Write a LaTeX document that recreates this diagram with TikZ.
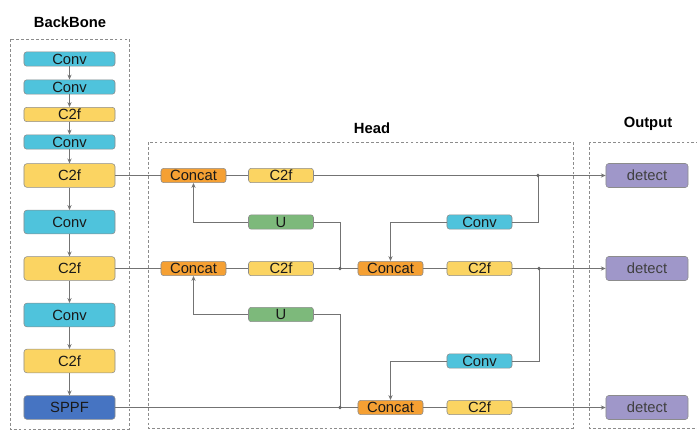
\documentclass[tikz,border=0pt]{standalone}
\usepackage{fontspec}
\setmainfont{Liberation Sans}
\usetikzlibrary{positioning, calc, arrows.meta}

\definecolor{convcol}{HTML}{4FC3DC}
\definecolor{csfcol}{HTML}{FBD462}
\definecolor{catcol}{HTML}{F5A033}
\definecolor{upcol}{HTML}{7DB97B}
\definecolor{sppfcol}{HTML}{4674C2}
\definecolor{detcol}{HTML}{9F97C9}

\begin{document}
\begin{tikzpicture}[
        x=0.025cm, y=-0.025cm,
        block/.style={rectangle, draw=black!45, rounded corners=2pt, inner sep=0pt, text=black!90, font=\fontsize{10.5}{12}\selectfont},
        bsmall/.style={block, minimum width=2.275cm, minimum height=0.36cm},
        blarge/.style={block, minimum width=2.275cm, minimum height=0.59cm},
        hsmall/.style={block, minimum width=1.625cm, minimum height=0.36cm},
        conv/.style={fill=convcol},
        csf/.style={fill=csfcol},
        cat/.style={fill=catcol},
        up/.style={fill=upcol},
        sppf/.style={fill=sppfcol},
        det/.style={block, fill=detcol, minimum width=2.05cm, minimum height=0.6cm, text=black!75},
        group/.style={draw=black!45, dash pattern=on 2pt off 1.5pt},
        title/.style={font=\fontsize{10.5}{12}\selectfont\bfseries},
        line/.style={draw=black!55, line width=0.6pt},
        arrow/.style={line, -{Stealth[length=3.5pt, width=3pt]}}
    ]
        \useasboundingbox (0,0) rectangle (697,430);
        \clip (0,0) rectangle (697,430);

        % groups
        \draw[group] (10,39) rectangle (129,429);
        \draw[group] (148,142) rectangle (573,428);
        \draw[group] (589,142) rectangle (710,428);
        \node[title] (tback) at (70,22) {BackBone};
        \node[title] (thead) at (372,128) {Head};
        \node[title] (tout) at (648,124) {Output};

        % backbone
        \node[bsmall, conv] (bconvA) at (69.5,59) {Conv};
        \node[bsmall, conv] (bconvB) at (69.5,87) {Conv};
        \node[bsmall, csf] (bcsfA) at (69.5,114.5) {C2f};
        \node[bsmall, conv] (bconvC) at (69.5,142) {Conv};
        \node[blarge, csf] (bcsfB) at (69.5,175.5) {C2f};
        \node[blarge, conv] (bconvD) at (69.5,222) {Conv};
        \node[blarge, csf] (bcsfC) at (69.5,268.5) {C2f};
        \node[blarge, conv] (bconvE) at (69.5,315) {Conv};
        \node[blarge, csf] (bcsfD) at (69.5,361) {C2f};
        \node[blarge, sppf] (sppf) at (69.5,407.5) {SPPF};
        \foreach \a/\b in {bconvA/bconvB, bconvB/bcsfA, bcsfA/bconvC, bconvC/bcsfB, bcsfB/bconvD, bconvD/bcsfC, bcsfC/bconvE, bconvE/bcsfD, bcsfD/sppf}
            \draw[arrow] (\a) -- (\b);

        % head
        \node[hsmall, cat] (hcatA) at (193.5,175.5) {Concat};
        \node[hsmall, csf] (hcsfA) at (281,175.5) {C2f};
        \node[hsmall, up] (hupA) at (281,222) {U};
        \node[hsmall, cat] (hcatB) at (193.5,268.5) {Concat};
        \node[hsmall, csf] (hcsfB) at (281,268.5) {C2f};
        \node[hsmall, cat] (hcatC) at (390.5,268.5) {Concat};
        \node[hsmall, conv] (hconvA) at (479.5,222) {Conv};
        \node[hsmall, csf] (hcsfC) at (479.5,268.5) {C2f};
        \node[hsmall, up] (hupB) at (281,314.5) {U};
        \node[hsmall, conv] (hconvB) at (479.5,361) {Conv};
        \node[hsmall, cat] (hcatD) at (390.5,407.5) {Concat};
        \node[hsmall, csf] (hcsfD) at (479.5,407.5) {C2f};

        % output
        \node[det] (detA) at (647,175.5) {detect};
        \node[det] (detB) at (647,268.5) {detect};
        \node[det] (detC) at (647,407.5) {detect};

        % junctions
        \coordinate (jA) at (538,175.5);
        \coordinate (jB) at (539,268.5);
        \coordinate (jC) at (340,268.5);
        \coordinate (jD) at (340,407.5);

        \draw[line] (bcsfB) -- (hcatA) -- (hcsfA);
        \draw[arrow] (hcsfA) -- (detA);
        \draw[line] (jA) |- (hconvA);
        \draw[arrow] (hconvA) -| (hcatC);
        \draw[arrow] (hupA) -| (hcatA);
        \draw[line] (hupA) -| (jC);

        \draw[line] (bcsfC) -- (hcatB) -- (hcsfB) -- (hcatC) -- (hcsfC);
        \draw[arrow] (hcsfC) -- (detB);
        \draw[line] (jB) |- (hconvB);
        \draw[arrow] (hconvB) -| (hcatD);
        \draw[arrow] (hupB) -| (hcatB);
        \draw[line] (hupB) -| (jD);

        \draw[line] (sppf) -- (hcatD) -- (hcsfD);
        \draw[arrow] (hcsfD) -- (detC);

        \foreach \j in {jA, jB, jC, jD}
            \fill[black!60] (\j) circle (1.4pt);
    \end{tikzpicture}
\end{document}
